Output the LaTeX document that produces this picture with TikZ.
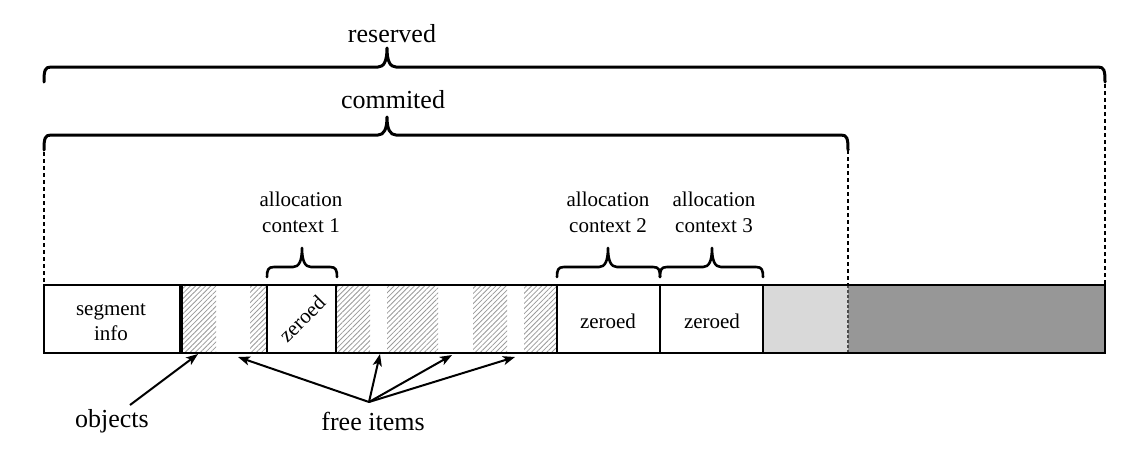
\documentclass[tikz,border=0pt]{standalone}
\usepackage{fontspec}
\setmainfont{Liberation Serif}
\usetikzlibrary{patterns.meta,arrows.meta}
\definecolor{lightfill}{HTML}{D9D9D9}
\definecolor{darkfill}{HTML}{979797}
\definecolor{hatchgray}{HTML}{9A9A9A}
\newcommand\curlyb[7]{% style, xL, xR, xtip, Y, end depth, tip height
  \draw[#1] ({#2},{#5+#6}) .. controls ({#2},{#5+3}) and ({#2+1},{#5}) .. ({#2+7},{#5})
    -- ({#4-9},{#5}) .. controls ({#4-3},{#5}) and ({#4},{#5-6}) .. ({#4},{#5-#7})
    .. controls ({#4},{#5-6}) and ({#4+3},{#5}) .. ({#4+9},{#5})
    -- ({#3-7},{#5}) .. controls ({#3-1},{#5}) and ({#3},{#5+3}) .. ({#3},{#5+#6});}
\begin{document}
\begin{tikzpicture}[x=1pt,y=-1pt,
  big/.style={font=\fontsize{26}{30}\selectfont, inner sep=0pt, anchor=base},
  small/.style={font=\fontsize{21}{26}\selectfont, inner sep=0pt, anchor=base},
  bigbrace/.style={line width=3pt, line cap=round, line join=round},
  smallbrace/.style={line width=2.6pt, line cap=round, line join=round},
  hatch/.style={pattern={Lines[angle=45,distance=3.6pt,line width=0.8pt]}, pattern color=hatchgray},
  guide/.style={line width=2.4pt, dash pattern=on 4pt off 3pt},
  bar/.style={line width=2pt},
  arr/.style={line width=2pt, -{Stealth[length=12pt,width=9pt,inset=3pt]}}]
\useasboundingbox (0,0) rectangle (1135,456);
\fill[white] (0,0) rectangle (1135,456);

% fills of the bar
\foreach \a/\b in {182/216,250/267,336/370,387/438,473/507,524/557}
  \fill[hatch] (\a,285) rectangle (\b,353);
\fill[lightfill] (763,285) rectangle (848,353);
\fill[darkfill] (848,285) rectangle (1105,353);

% dividers
\draw[line width=3.8pt] (181,285) -- (181,353);
\foreach \x in {267,336,557,660,763}
  \draw[bar] (\x,285) -- (\x,353);
\draw[line width=1.2pt, dash pattern=on 3pt off 2pt, black!70] (848,285) -- (848,353);
\draw[bar] (44,285) rectangle (1105,353);

% guide lines
\draw[guide] (44,152) -- (44,285);
\draw[guide] (848,150) -- (848,285);
\draw[guide] (1105,84) -- (1105,285);

% braces
\curlyb{bigbrace}{44}{1105}{387}{67}{15}{19}
\curlyb{bigbrace}{44}{848}{387}{135}{15}{18}
\curlyb{smallbrace}{267}{337}{302}{267}{10}{19}
\curlyb{smallbrace}{557}{660}{608}{267}{10}{19}
\curlyb{smallbrace}{660}{763}{712}{267}{10}{19}

% labels
\node[big] (reserved) at (392,42) {reserved};
\node[big] (commited) at (393,108) {commited};
\node[small] (ac1a) at (301,206) {allocation};
\node[small] (ac1b) at (301,232) {context 1};
\node[small] (ac2a) at (608,206) {allocation};
\node[small] (ac2b) at (608,232) {context 2};
\node[small] (ac3a) at (714,206) {allocation};
\node[small] (ac3b) at (714,232) {context 3};
\node[small] (seg1) at (111,315) {segment};
\node[small] (seg2) at (111,340) {info};
\node[small, rotate=45, anchor=center] (z1) at (302,319) {zeroed};
\node[small] (z2) at (608,328) {zeroed};
\node[small] (z3) at (712,328) {zeroed};
\node[big] (objects) at (112,427) {objects};
\node[big] (free) at (373,430) {free items};

% arrows
\coordinate (objtail) at (130,405);
\coordinate (objhead) at (198,354);
\draw[arr] (objtail) -- (objhead);
\coordinate (fork) at (369,402);
\coordinate (f1) at (238,357);
\coordinate (f2) at (380,354);
\coordinate (f3) at (452,355);
\coordinate (f4) at (515,357);
\foreach \h in {f1,f2,f3,f4}
  \draw[arr] (fork) -- (\h);
\end{tikzpicture}
\end{document}
